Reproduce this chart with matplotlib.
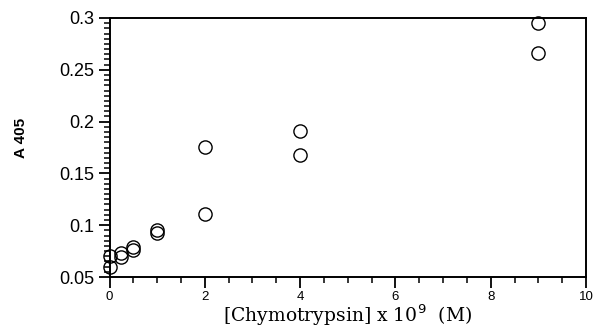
#!/usr/bin/env python
# A405 vs chymotrypsin concentration, open-circle scatter
import matplotlib
matplotlib.use("Agg")
import matplotlib.pyplot as plt
from matplotlib.ticker import MultipleLocator

# data
chymo = [0, 0, 0.25, 0.25, 0.5, 0.5, 1, 1, 2, 2, 4, 4, 9, 9]
a405 = [0.0703, 0.0600, 0.0735, 0.0697, 0.0787, 0.0762, 0.0955, 0.0928,
        0.1758, 0.1105, 0.1912, 0.1678, 0.2950, 0.2660]

xticks = [0, 2, 4, 6, 8, 10]
yticks = [0.05, 0.1, 0.15, 0.2, 0.25, 0.3]
yticklabels = ["0.05", "0.1", "0.15", "0.2", "0.25", "0.3"]

fig = plt.figure(figsize=(5.96, 3.29), dpi=100)
ax = fig.add_axes([109.5 / 596, 1 - 277 / 329, (586 - 109.5) / 596, (277 - 18) / 329])

ax.plot(chymo, a405, linestyle="none", marker="o", markersize=9.5,
        markerfacecolor="none", markeredgecolor="black", markeredgewidth=1.0,
        clip_on=False, zorder=3)

ax.set_xlim(0, 10)
ax.set_ylim(0.05, 0.3)
ax.set_xticks(xticks)
ax.set_xticklabels([str(t) for t in xticks], family="Liberation Sans", fontsize=9.5)
ax.set_yticks(yticks)
ax.set_yticklabels(yticklabels, family="Liberation Sans", fontsize=13)
ax.xaxis.set_minor_locator(MultipleLocator(0.5))
ax.yaxis.set_minor_locator(MultipleLocator(0.005))

ax.tick_params(which="major", direction="out", length=8, width=1.3, pad=3)
ax.tick_params(which="minor", direction="out", length=4, width=1.1)
ax.tick_params(axis="x", which="major", pad=2)
for s in ax.spines.values():
    s.set_linewidth(1.4)

ax.set_xlabel(r"[Chymotrypsin] x 10$^{9}$  (M)", family="DejaVu Serif",
              fontsize=13.5, labelpad=0)
ax.set_ylabel("A 405", family="Liberation Sans", fontweight="bold", fontsize=11)
ax.yaxis.set_label_coords(-0.172, 0.537)

fig.savefig("out.png", dpi=100)
